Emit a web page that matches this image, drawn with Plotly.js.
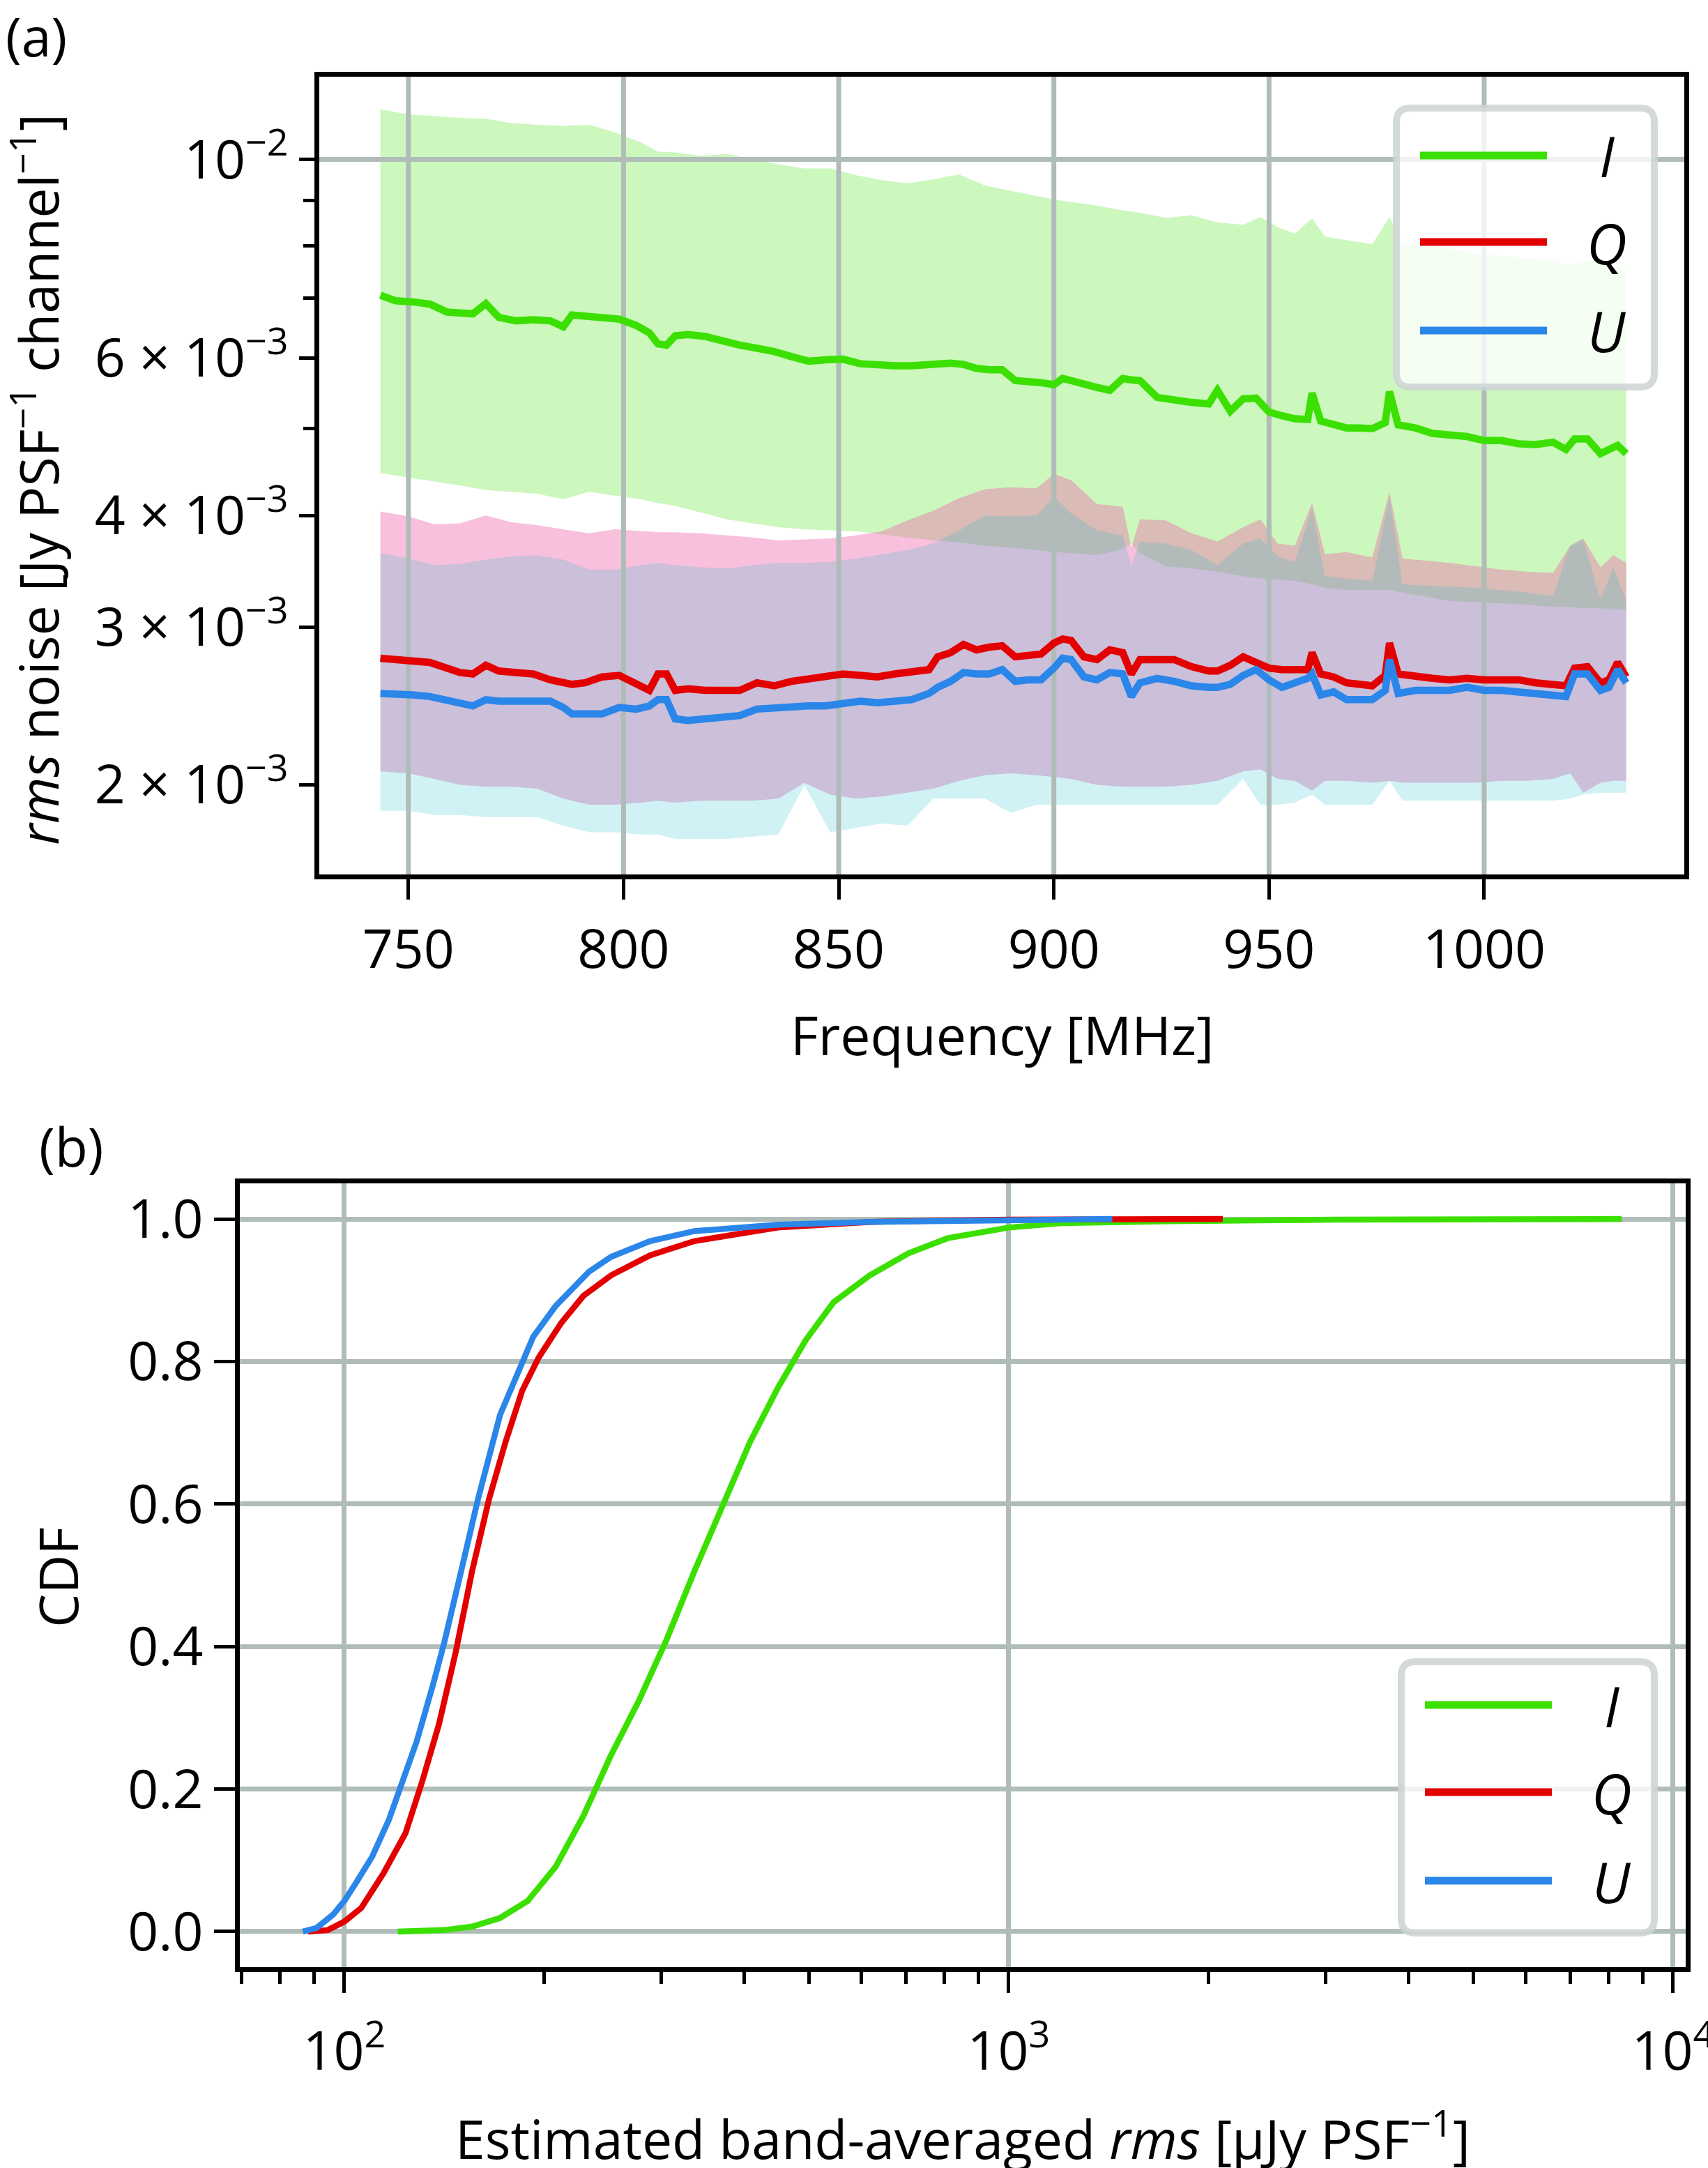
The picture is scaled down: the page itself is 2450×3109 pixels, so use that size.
<!DOCTYPE html>
<html>
<head>
<meta charset="utf-8">
<script src="https://cdn.plot.ly/plotly-3.0.1.min.js"></script>
<style>
  html, body { margin: 0; padding: 0; background: #fff; overflow: hidden; }
  #chart { width: 2450px; height: 3109px; }
</style>
</head>
<body>
<div id="chart"></div>
<script>
// ---- panel (a): per-channel rms noise, values in units of 1e-3 Jy/PSF/channel ----
const freq = [743.5, 747, 751, 755, 759, 762, 765, 768, 771, 775,
  779, 783, 786, 788, 791, 795, 799, 803, 806, 808,
  810, 812, 815, 819, 823, 827, 831, 835, 839, 843,
  847, 851, 855, 859, 863, 867, 871, 873, 876, 879,
  882, 885, 888, 891, 894, 897, 900, 902, 904, 907,
  910, 913, 916, 918, 920, 924, 928, 932, 936, 938,
  941, 944, 947, 950, 953, 956, 959, 960, 962, 965,
  968, 971, 974, 977, 978, 980, 984, 988, 992, 996,
  1000, 1004, 1008, 1012, 1016, 1019, 1021, 1024, 1027, 1029,
  1031, 1033];

const iMedian = [7.05, 6.95, 6.93, 6.89, 6.75, 6.72, 6.72, 6.90, 6.66, 6.60,
  6.62, 6.60, 6.50, 6.70, 6.68, 6.68, 6.63, 6.52, 6.40, 6.22,
  6.20, 6.35, 6.37, 6.34, 6.26, 6.20, 6.15, 6.10, 6.02, 5.95,
  5.97, 5.98, 5.91, 5.89, 5.88, 5.88, 5.90, 5.91, 5.92, 5.90,
  5.84, 5.82, 5.82, 5.66, 5.65, 5.63, 5.60, 5.69, 5.66, 5.60,
  5.56, 5.52, 5.69, 5.67, 5.66, 5.42, 5.38, 5.35, 5.33, 5.52,
  5.23, 5.40, 5.41, 5.22, 5.17, 5.13, 5.12, 5.48, 5.10, 5.05,
  5.01, 5.01, 5.00, 5.08, 5.50, 5.05, 5.01, 4.94, 4.92, 4.90,
  4.85, 4.85, 4.81, 4.80, 4.83, 4.74, 4.87, 4.87, 4.69, 4.75,
  4.79, 4.69];

const qMedian = [2.77, 2.76, 2.74, 2.74, 2.70, 2.67, 2.66, 2.72, 2.68, 2.67,
  2.66, 2.62, 2.60, 2.59, 2.60, 2.64, 2.65, 2.60, 2.55, 2.66,
  2.66, 2.55, 2.56, 2.55, 2.55, 2.55, 2.60, 2.58, 2.61, 2.63,
  2.65, 2.66, 2.65, 2.64, 2.66, 2.67, 2.69, 2.78, 2.81, 2.87,
  2.83, 2.85, 2.86, 2.78, 2.79, 2.80, 2.88, 2.91, 2.90, 2.78,
  2.76, 2.83, 2.81, 2.66, 2.76, 2.76, 2.76, 2.71, 2.68, 2.68,
  2.72, 2.78, 2.74, 2.70, 2.69, 2.69, 2.69, 2.81, 2.66, 2.64,
  2.60, 2.59, 2.58, 2.65, 2.88, 2.66, 2.64, 2.63, 2.62, 2.63,
  2.62, 2.62, 2.62, 2.60, 2.59, 2.58, 2.70, 2.71, 2.60, 2.62,
  2.74, 2.64];

const uMedian = [2.53, 2.52, 2.52, 2.51, 2.49, 2.47, 2.45, 2.49, 2.48, 2.48,
  2.48, 2.48, 2.44, 2.40, 2.40, 2.40, 2.44, 2.43, 2.45, 2.49,
  2.49, 2.37, 2.36, 2.37, 2.38, 2.39, 2.43, 2.44, 2.45, 2.45,
  2.45, 2.46, 2.48, 2.47, 2.48, 2.49, 2.53, 2.57, 2.61, 2.67,
  2.66, 2.66, 2.69, 2.61, 2.62, 2.62, 2.70, 2.77, 2.76, 2.64,
  2.62, 2.67, 2.66, 2.51, 2.60, 2.63, 2.61, 2.58, 2.57, 2.57,
  2.59, 2.65, 2.69, 2.62, 2.57, 2.60, 2.63, 2.66, 2.52, 2.54,
  2.49, 2.49, 2.49, 2.55, 2.76, 2.53, 2.55, 2.55, 2.55, 2.57,
  2.55, 2.55, 2.54, 2.53, 2.52, 2.51, 2.66, 2.66, 2.55, 2.57,
  2.69, 2.60];

// spread of the noise across beams (shaded bands)
const boundFreq = [743.5, 750, 756, 762, 768, 774, 780, 786, 792, 798,
  804, 808, 812, 818, 824, 830, 836, 842, 848, 854,
  860, 866, 872, 878, 884, 890, 896, 900, 904, 910,
  916, 918, 920, 926, 932, 938, 944, 948, 952, 956,
  960, 963, 968, 974, 978, 981, 986, 992, 998, 1004,
  1010, 1016, 1020, 1023, 1027, 1030, 1033];

const iUpper = [11.37, 11.23, 11.18, 11.13, 11.10, 10.98, 10.93, 10.90, 10.93, 10.72,
  10.45, 10.20, 10.18, 10.09, 10.14, 10.00, 9.87, 9.77, 9.77, 9.60,
  9.48, 9.40, 9.50, 9.62, 9.35, 9.22, 9.10, 9.02, 8.96, 8.88,
  8.77, 8.75, 8.72, 8.60, 8.66, 8.50, 8.45, 8.62, 8.40, 8.26,
  8.59, 8.20, 8.12, 8.04, 8.62, 8.05, 8.02, 7.95, 7.85, 7.80,
  7.76, 7.72, 7.62, 7.72, 7.66, 7.60, 7.53];
const iLower = [4.46, 4.41, 4.37, 4.32, 4.27, 4.25, 4.23, 4.17, 4.25, 4.21,
  4.17, 4.13, 4.10, 4.03, 3.96, 3.92, 3.88, 3.86, 3.85, 3.84,
  3.81, 3.78, 3.75, 3.73, 3.70, 3.68, 3.66, 3.64, 3.63, 3.61,
  3.67, 3.72, 3.63, 3.51, 3.49, 3.46, 3.42, 3.40, 3.39, 3.38,
  3.35, 3.32, 3.30, 3.30, 3.30, 3.28, 3.25, 3.21, 3.20, 3.19,
  3.18, 3.16, 3.16, 3.15, 3.15, 3.14, 3.14];
const qUpper = [4.04, 3.99, 3.91, 3.92, 4.00, 3.93, 3.90, 3.86, 3.82, 3.86,
  3.84, 3.83, 3.83, 3.82, 3.80, 3.78, 3.75, 3.76, 3.77, 3.80,
  3.84, 3.95, 4.05, 4.18, 4.28, 4.30, 4.29, 4.45, 4.38, 4.12,
  4.09, 3.68, 3.96, 3.95, 3.82, 3.74, 3.88, 3.96, 3.72, 3.70,
  4.13, 3.62, 3.64, 3.59, 4.25, 3.58, 3.56, 3.54, 3.51, 3.48,
  3.46, 3.45, 3.70, 3.77, 3.50, 3.61, 3.54];
const qLower = [2.07, 2.06, 2.03, 2.00, 1.99, 1.99, 1.98, 1.93, 1.90, 1.90,
  1.91, 1.92, 1.91, 1.92, 1.92, 1.92, 1.93, 2.01, 1.95, 1.93,
  1.94, 1.96, 1.98, 2.02, 2.05, 2.06, 2.05, 2.04, 2.03, 2.00,
  1.99, 1.99, 1.99, 1.99, 2.00, 2.02, 2.07, 2.08, 2.03, 2.02,
  1.97, 2.02, 2.02, 2.01, 2.02, 2.01, 2.01, 2.01, 2.01, 2.02,
  2.02, 2.03, 2.06, 1.96, 2.01, 2.02, 2.02];
const uUpper = [3.63, 3.58, 3.52, 3.53, 3.57, 3.60, 3.61, 3.57, 3.48, 3.48,
  3.52, 3.54, 3.52, 3.50, 3.49, 3.52, 3.54, 3.54, 3.55, 3.58,
  3.62, 3.66, 3.72, 3.85, 4.00, 3.99, 4.00, 4.20, 4.02, 3.85,
  3.80, 3.52, 3.74, 3.72, 3.66, 3.52, 3.72, 3.77, 3.60, 3.55,
  4.07, 3.42, 3.40, 3.38, 4.19, 3.35, 3.34, 3.33, 3.32, 3.30,
  3.28, 3.25, 3.70, 3.76, 3.22, 3.50, 3.21];
const uLower = [1.87, 1.87, 1.85, 1.85, 1.84, 1.84, 1.84, 1.80, 1.77, 1.77,
  1.76, 1.76, 1.74, 1.74, 1.74, 1.75, 1.76, 2.00, 1.77, 1.79,
  1.81, 1.80, 1.93, 1.93, 1.93, 1.86, 1.90, 1.90, 1.90, 1.90,
  1.90, 1.90, 1.90, 1.90, 1.90, 1.90, 2.03, 1.90, 1.90, 1.91,
  1.95, 1.90, 1.90, 1.90, 2.02, 1.92, 1.92, 1.92, 1.92, 1.92,
  1.92, 1.92, 1.93, 1.95, 1.96, 1.96, 1.96];

const NOISE_UNIT = 1e-3;
const freqTicks = [750, 800, 850, 900, 950, 1000];
const noiseTicks = [0.002, 0.003, 0.004, 0.006, 0.01];
const noiseTickText = ['2 × 10<sup>−3</sup>', '3 × 10<sup>−3</sup>', '4 × 10<sup>−3</sup>',
  '6 × 10<sup>−3</sup>', '10<sup>−2</sup>'];
const noiseMinorTicks = [0.005, 0.007, 0.008, 0.009];

// ---- panel (b): CDF of band-averaged rms, uJy/PSF ----
const iCdfX = [120.3, 141.4, 155.7, 171.5, 188.8, 208, 228.9, 252.1, 277.5, 305.6,
  336.5, 370.6, 408, 449.2, 494.8, 544.8, 617.9, 707.2, 809, 1000,
  1189, 1748, 3116, 8368];
const iCdfY = [0, 0.002, 0.007, 0.019, 0.043, 0.091, 0.162, 0.248, 0.324, 0.410,
  0.506, 0.596, 0.687, 0.763, 0.830, 0.883, 0.921, 0.952, 0.973, 0.988,
  0.994, 0.997, 0.999, 1.0];
const qCdfX = [88.2, 94.4, 100, 106, 114.4, 123.6, 130.9, 138.8, 147.0, 155.7,
  165.0, 174.8, 185.2, 196.2, 212, 228.9, 252.1, 288.5, 336.5, 449.2,
  620.9, 1000, 2100];
const qCdfY = [0, 0.002, 0.014, 0.033, 0.081, 0.138, 0.210, 0.291, 0.391, 0.506,
  0.606, 0.687, 0.759, 0.806, 0.854, 0.892, 0.921, 0.949, 0.969, 0.988,
  0.996, 0.999, 1.0];
const uCdfX = [86.6, 90.8, 96.2, 100, 103.9, 110.1, 116.7, 121.2, 128.5, 136.1,
  141.4, 149.9, 158.8, 171.5, 181.7, 192.5, 208.0, 233.4, 252.1, 288.5,
  336.5, 449.2, 620.9, 900, 1432];
const uCdfY = [0, 0.005, 0.024, 0.043, 0.067, 0.105, 0.157, 0.200, 0.267, 0.348,
  0.406, 0.506, 0.606, 0.725, 0.782, 0.835, 0.878, 0.926, 0.947, 0.969,
  0.983, 0.992, 0.996, 0.998, 1.0];

const rmsTicks = [100, 1000, 10000];
const rmsTickText = ['10<sup>2</sup>', '10<sup>3</sup>', '10<sup>4</sup>'];
const rmsMinorTicks = [70, 80, 90, 200, 300, 400, 500, 600, 700, 800, 900,
  2000, 3000, 4000, 5000, 6000, 7000, 8000, 9000];
const cdfTicks = [0, 0.2, 0.4, 0.6, 0.8, 1.0];
const cdfTickText = ['0.0', '0.2', '0.4', '0.6', '0.8', '1.0'];

const stokes = ['I', 'Q', 'U'];

(function () {
    const W = 2450, H = 3109;
    const colors = {
        I: '#3be000',
        Q: '#e30000',
        U: '#2b86ea',
        fillI: 'rgba(59, 224, 0, 0.26)',
        fillQ: 'rgba(238, 105, 172, 0.42)',
        fillU: 'rgba(23, 190, 207, 0.2)',
        grid: '#b0bcb8',
        axis: '#000000',
    };
    const FONT = 'Open Sans, Noto Sans, DejaVu Sans, sans-serif';
    const TEXT = 77;

    const topBox = {l: 458, r: 2416, t: 110, b: 1254};
    const botBox = {l: 344, r: 2418, t: 1697, b: 2821};
    const freqRange = [729.3, 1046.5];
    const noiseRangeLog = [-2.7992, -1.9076];
    const rmsRangeLog = [1.8426, 4.019];
    const cdfRange = [-0.05, 1.05];

    const fx = (x) => x / W;
    const fy = (y) => 1 - y / H;
    const scale = (arr) => arr.map((v) => v * NOISE_UNIT);

    function band(lower, upper, fill) {
        return [
            {x: boundFreq, y: scale(lower), type: 'scatter', mode: 'lines',
             line: {width: 0}, hoverinfo: 'skip', showlegend: false, xaxis: 'x', yaxis: 'y'},
            {x: boundFreq, y: scale(upper), type: 'scatter', mode: 'lines',
             line: {width: 0}, fill: 'tonexty', fillcolor: fill,
             hoverinfo: 'skip', showlegend: false, xaxis: 'x', yaxis: 'y'},
        ];
    }

    // grid for panel (a) drawn as a trace so it sits above the bands but below the lines
    const gridX = [];
    const gridY = [];
    const yLo = Math.pow(10, noiseRangeLog[0]);
    const yHi = Math.pow(10, noiseRangeLog[1]);
    freqTicks.forEach((f) => { gridX.push(f, f, null); gridY.push(yLo, yHi, null); });
    gridX.push(freqRange[0], freqRange[1]);
    gridY.push(noiseTicks[noiseTicks.length - 1], noiseTicks[noiseTicks.length - 1]);

    const medians = {I: iMedian, Q: qMedian, U: uMedian};
    const cdfs = {I: [iCdfX, iCdfY], Q: [qCdfX, qCdfY], U: [uCdfX, uCdfY]};

    const traces = [].concat(
        band(iLower, iUpper, colors.fillI),
        band(qLower, qUpper, colors.fillQ),
        band(uLower, uUpper, colors.fillU),
        [{x: gridX, y: gridY, type: 'scatter', mode: 'lines',
          line: {color: colors.grid, width: 7}, hoverinfo: 'skip',
          showlegend: false, xaxis: 'x', yaxis: 'y'}],
        stokes.map((s) => ({
            x: freq, y: scale(medians[s]), type: 'scatter', mode: 'lines', name: s,
            line: {color: colors[s], width: 10.5}, showlegend: false, xaxis: 'x', yaxis: 'y',
        })),
        stokes.map((s) => ({
            x: cdfs[s][0], y: cdfs[s][1], type: 'scatter', mode: 'lines', name: s,
            line: {color: colors[s], width: 8.5}, showlegend: false, xaxis: 'x2', yaxis: 'y2',
        })),
    );

    const axisCommon = {
        showline: true, linecolor: colors.axis, linewidth: 7, mirror: true,
        ticks: 'outside', tickcolor: colors.axis, tickwidth: 5,
        zeroline: false, ticklabeloverflow: 'allow',
        tickfont: {size: TEXT, family: FONT, color: '#000'},
    };

    function roundRect(x0, y0, x1, y1, r) {
        const rx = r / W, ry = r / H;
        const L = fx(x0), R = fx(x1), T = fy(y0), B = fy(y1);
        return 'M' + (L + rx) + ',' + T + ' L' + (R - rx) + ',' + T +
            ' Q' + R + ',' + T + ' ' + R + ',' + (T - ry) +
            ' L' + R + ',' + (B + ry) + ' Q' + R + ',' + B + ' ' + (R - rx) + ',' + B +
            ' L' + (L + rx) + ',' + B + ' Q' + L + ',' + B + ' ' + L + ',' + (B + ry) +
            ' L' + L + ',' + (T - ry) + ' Q' + L + ',' + T + ' ' + (L + rx) + ',' + T + ' Z';
    }

    const shapes = [];
    const annotations = [];
    function legend(box, rows) {
        shapes.push({
            type: 'path', xref: 'paper', yref: 'paper', layer: 'above',
            path: roundRect(box.l, box.t, box.r, box.b, 20),
            fillcolor: 'rgba(255,255,255,0.8)',
            line: {color: 'rgba(204,211,211,0.85)', width: 10},
        });
        stokes.forEach((s, i) => {
            shapes.push({
                type: 'line', xref: 'paper', yref: 'paper', layer: 'above',
                x0: fx(box.l + 34), x1: fx(box.l + 216), y0: fy(rows[i]), y1: fy(rows[i]),
                line: {color: colors[s], width: 11},
            });
            annotations.push({
                xref: 'paper', yref: 'paper', x: fx(box.l + 302), y: fy(rows[i]),
                xanchor: 'center', yanchor: 'middle', showarrow: false,
                text: '<i>' + s + '</i>', font: {size: 80, family: FONT, color: '#000'},
            });
        });
    }
    legend({l: 2003, t: 155, r: 2373, b: 555}, [223, 347, 474]);
    legend({l: 2010, t: 2383, r: 2373, b: 2772}, [2445, 2570, 2697]);

    function label(text, x, y, opts) {
        annotations.push(Object.assign({
            xref: 'paper', yref: 'paper', x: fx(x), y: fy(y),
            xanchor: 'center', yanchor: 'middle', showarrow: false, text: text,
            font: {size: TEXT, family: FONT, color: '#000'},
        }, opts || {}));
    }
    label('(a)', 6, 52, {xanchor: 'left'});
    label('(b)', 54, 1643, {xanchor: 'left'});
    label('<i>rms</i> noise [Jy PSF<sup>−1</sup> channel<sup>−1</sup>]', 50, 688, {textangle: -90});
    label('Frequency [MHz]', 1437, 1483);
    label('CDF', 82, 2262, {textangle: -90});
    label('Estimated band-averaged <i>rms</i> [μJy PSF<sup>−1</sup>]', 1381, 3062);

    const layout = {
        width: W, height: H,
        margin: {l: 0, r: 0, t: 0, b: 0, pad: 0},
        paper_bgcolor: '#ffffff', plot_bgcolor: '#ffffff',
        font: {family: FONT, size: TEXT, color: '#000'},
        showlegend: false,
        xaxis: Object.assign({}, axisCommon, {
            domain: [fx(topBox.l), fx(topBox.r)], anchor: 'y',
            range: freqRange, tickmode: 'array', tickvals: freqTicks,
            ticklen: 29, showgrid: false, ticklabelstandoff: 6,
        }),
        yaxis: Object.assign({}, axisCommon, {
            domain: [fy(topBox.b), fy(topBox.t)], anchor: 'x',
            type: 'log', range: noiseRangeLog, tickmode: 'array',
            tickvals: noiseTicks, ticktext: noiseTickText,
            ticklen: 22, showgrid: false,
            minor: {tickmode: 'array', tickvals: noiseMinorTicks, ticks: 'outside',
                    ticklen: 16, tickwidth: 5, tickcolor: colors.axis, showgrid: false},
        }),
        xaxis2: Object.assign({}, axisCommon, {
            domain: [fx(botBox.l), fx(botBox.r)], anchor: 'y2',
            type: 'log', range: rmsRangeLog, tickmode: 'array',
            tickvals: rmsTicks, ticktext: rmsTickText, ticklen: 30,
            ticklabelstandoff: 18,
            showgrid: true, gridcolor: colors.grid, gridwidth: 7,
            minor: {tickmode: 'array', tickvals: rmsMinorTicks, ticks: 'outside',
                    ticklen: 17, tickwidth: 5, tickcolor: colors.axis, showgrid: false},
        }),
        yaxis2: Object.assign({}, axisCommon, {
            domain: [fy(botBox.b), fy(botBox.t)], anchor: 'x2',
            range: cdfRange, tickmode: 'array', tickvals: cdfTicks, ticktext: cdfTickText,
            ticklen: 30, showgrid: true, gridcolor: colors.grid, gridwidth: 7,
        }),
        shapes: shapes,
        annotations: annotations,
    };

    Plotly.newPlot('chart', traces, layout, {displayModeBar: false, staticPlot: true});
})();
</script>
</body>
</html>
